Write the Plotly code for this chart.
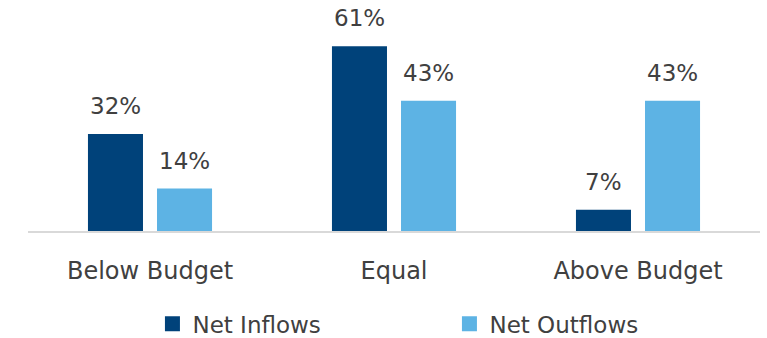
import plotly.graph_objects as go

categories = ["Below Budget", "Equal", "Above Budget"]
net_inflows = [32, 61, 7]
net_outflows = [14, 43, 43]

series_names = ["Net Inflows", "Net Outflows"]
colors = ["#00427A", "#5DB3E4"]
FONT = "DejaVu Sans"
TEXT = "#404040"
SIZE = 23

fig = go.Figure()
offsets = [-34.5, 34.5]
for name, vals, col, off in zip(series_names, [net_inflows, net_outflows], colors, offsets):
    fig.add_trace(go.Bar(
        x=categories, y=vals, name=name, marker=dict(color=col, line=dict(width=0)),
        showlegend=False,
    ))
    # legend swatch
    fig.add_trace(go.Scatter(
        x=[None], y=[None], mode="markers", name=name,
        marker=dict(symbol="square", size=15, color=col),
    ))
    # value labels above each bar
    for cat, v in zip(categories, vals):
        fig.add_annotation(
            x=cat, y=v, text=f"{v}%", showarrow=False,
            xshift=off, yshift=13, yanchor="bottom", xanchor="center",
            font=dict(family=FONT, size=SIZE, color=TEXT),
        )

fig.update_layout(
    width=767, height=338,
    margin=dict(l=28, r=7, t=10, b=107, autoexpand=False),
    paper_bgcolor="white", plot_bgcolor="white",
    barmode="group", bargap=0.434, bargroupgap=0.203,
    font=dict(family=FONT, color=TEXT, size=SIZE),
    xaxis=dict(
        showgrid=False, showline=True, linecolor="#D9D9D9", linewidth=2,
        tickfont=dict(family=FONT, size=SIZE + 1, color=TEXT),
        ticks="", ticklabelstandoff=17, fixedrange=True, automargin=False,
    ),
    yaxis=dict(range=[0, 73], visible=False, fixedrange=True),
    legend=dict(
        orientation="h", x=0.17, xanchor="left", y=-0.42, yanchor="middle",
        font=dict(family=FONT, size=SIZE, color=TEXT),
        entrywidth=252, entrywidthmode="pixels", itemsizing="trace",
    ),
)

fig.write_html("out.html")
